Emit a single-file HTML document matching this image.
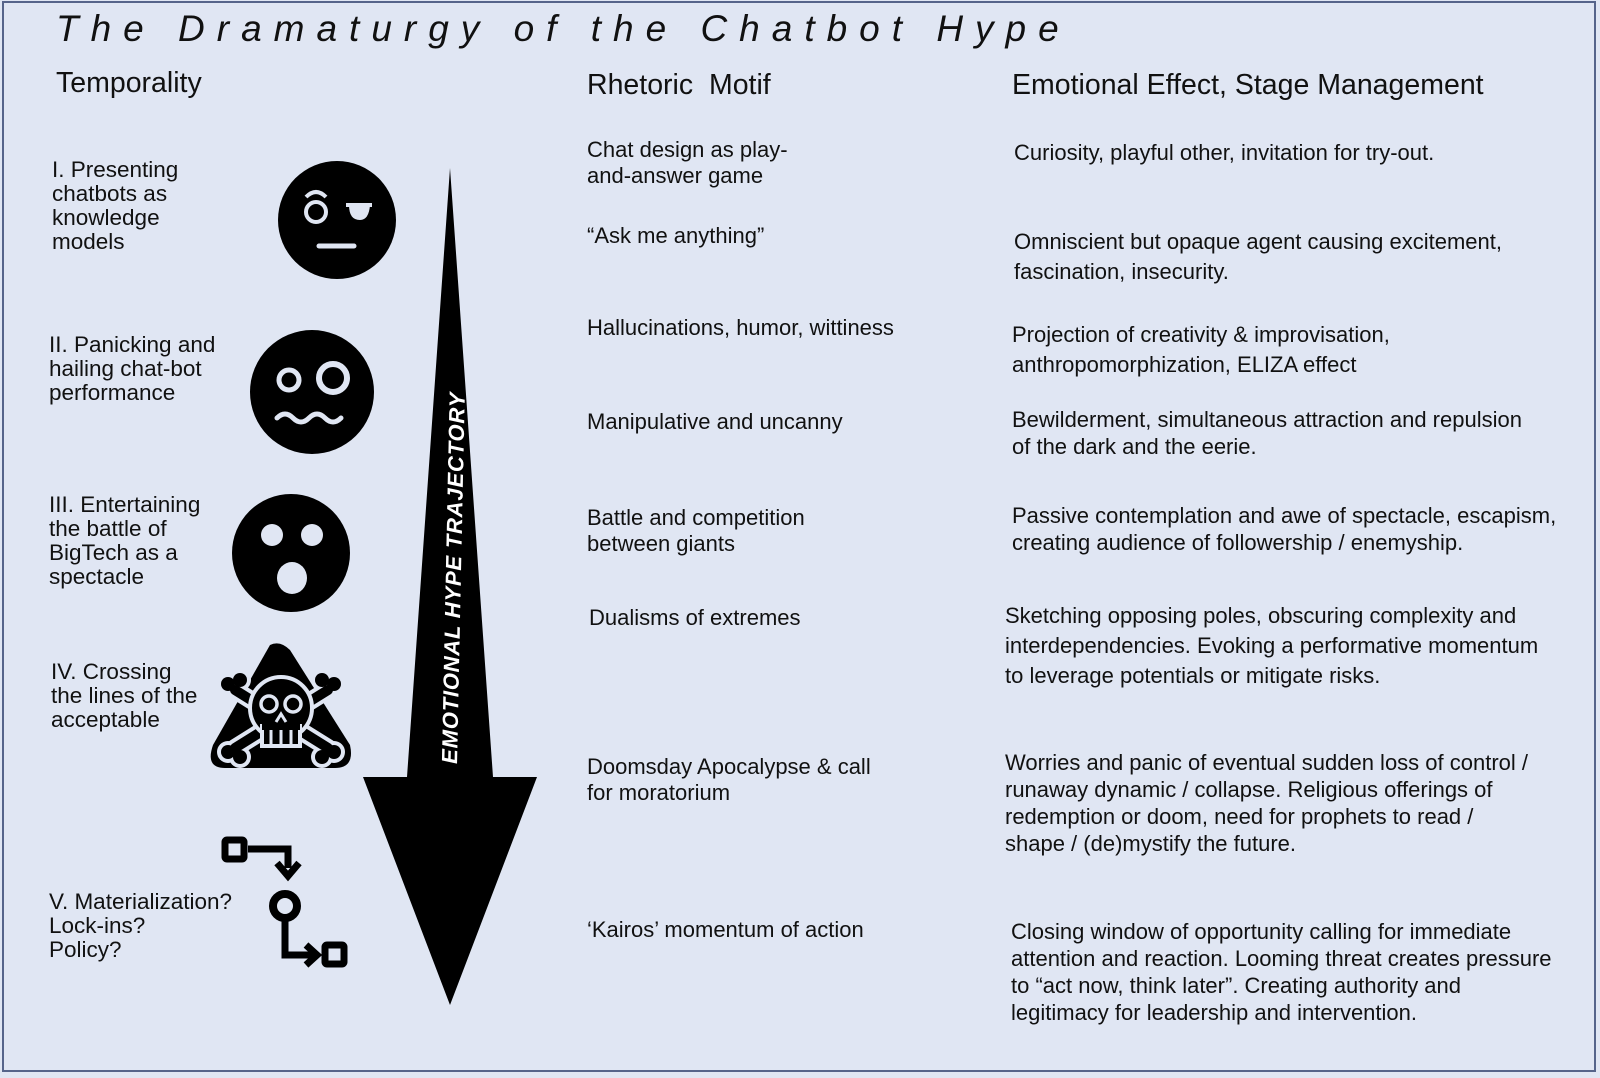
<!DOCTYPE html>
<html><head><meta charset="utf-8"><style>
html,body{margin:0;padding:0}
body{width:1600px;height:1078px;position:relative;background:#e0e6f3;font-family:"Liberation Sans",sans-serif;color:#111;overflow:hidden}
#frame{position:absolute;left:2px;top:1px;width:1594px;height:1071px;border:2px solid #56648a;box-sizing:border-box}
.t{position:absolute;font-size:22px;line-height:26px;white-space:nowrap}
.h{position:absolute;font-size:28.5px;white-space:nowrap}
.l{position:absolute;font-size:22.5px;line-height:24px;white-space:nowrap}
</style></head><body>
<div id="frame"></div>
<div style="position:absolute;left:56px;top:8px;font-size:37px;font-style:italic;letter-spacing:12px;white-space:nowrap">The Dramaturgy of the Chatbot Hype</div>
<div class="h" style="left:56px;top:67px">Temporality</div>
<div class="h" style="left:587px;top:69px">Rhetoric&nbsp; Motif</div>
<div class="h" style="left:1012px;top:69px">Emotional Effect, Stage Management</div>

<div class="l" style="left:52px;top:158px">I. Presenting<br>chatbots as<br>knowledge<br>models</div>
<div class="l" style="left:49px;top:333px">II. Panicking and<br>hailing chat-bot<br>performance</div>
<div class="l" style="left:49px;top:493px">III. Entertaining<br>the battle of<br>BigTech as a<br>spectacle</div>
<div class="l" style="left:51px;top:660px">IV. Crossing<br>the lines of the<br>acceptable</div>
<div class="l" style="left:49px;top:890px">V. Materialization?<br>Lock-ins?<br>Policy?</div>

<div class="t" style="left:587px;top:137px">Chat design as play-<br>and-answer game</div>
<div class="t" style="left:587px;top:223px">“Ask me anything”</div>
<div class="t" style="left:587px;top:315px">Hallucinations, humor, wittiness</div>
<div class="t" style="left:587px;top:409px">Manipulative and uncanny</div>
<div class="t" style="left:587px;top:505px">Battle and competition<br>between giants</div>
<div class="t" style="left:589px;top:605px">Dualisms of extremes</div>
<div class="t" style="left:587px;top:754px">Doomsday Apocalypse &amp; call<br>for moratorium</div>
<div class="t" style="left:587px;top:917px">‘Kairos’ momentum of action</div>

<div class="t" style="left:1014px;top:140px">Curiosity, playful other, invitation for try-out.</div>
<div class="t" style="left:1014px;top:227px;line-height:30px">Omniscient but opaque agent causing excitement,<br>fascination, insecurity.</div>
<div class="t" style="left:1012px;top:320px;line-height:30px">Projection of creativity &amp; improvisation,<br>anthropomorphization, ELIZA effect</div>
<div class="t" style="left:1012px;top:406px;line-height:27px">Bewilderment, simultaneous attraction and repulsion<br>of the dark and the eerie.</div>
<div class="t" style="left:1012px;top:502px;line-height:27px">Passive contemplation and awe of spectacle, escapism,<br>creating audience of followership / enemyship.</div>
<div class="t" style="left:1005px;top:601px;line-height:30px">Sketching opposing poles, obscuring complexity and<br>interdependencies. Evoking a performative momentum<br>to leverage potentials or mitigate risks.</div>
<div class="t" style="left:1005px;top:749px;line-height:27px">Worries and panic of eventual sudden loss of control /<br>runaway dynamic / collapse. Religious offerings of<br>redemption or doom, need for prophets to read /<br>shape / (de)mystify the future.</div>
<div class="t" style="left:1011px;top:918px;line-height:27px">Closing window of opportunity calling for immediate<br>attention and reaction. Looming threat creates pressure<br>to “act now, think later”. Creating authority and<br>legitimacy for leadership and intervention.</div>

<svg width="1600" height="1078" style="position:absolute;left:0;top:0">
<polygon points="450,168 493,777 537,777 450,1005 363,777 407,777" fill="#000"/>
<text transform="translate(457,764) rotate(-88.8)" font-family="Liberation Sans" font-weight="bold" font-style="italic" font-size="22" letter-spacing="0.8" fill="#fff">EMOTIONAL HYPE TRAJECTORY</text>
<!-- face 1 -->
<circle cx="337" cy="220" r="59" fill="#000"/>
<circle cx="316" cy="212" r="10" fill="none" stroke="#e0e6f3" stroke-width="4"/>
<path d="M306,197 Q316,187 326,197" fill="none" stroke="#e0e6f3" stroke-width="4"/>
<path d="M346,205 H372 M351,205 Q351,218 360,218 Q367,218 368,205" fill="#e0e6f3" stroke="#e0e6f3" stroke-width="4"/>
<line x1="319" y1="246" x2="354" y2="246" stroke="#e0e6f3" stroke-width="5" stroke-linecap="round"/>
<!-- face 2 -->
<circle cx="312" cy="392" r="62" fill="#000"/>
<circle cx="289" cy="380" r="10" fill="none" stroke="#e0e6f3" stroke-width="5"/>
<circle cx="333" cy="378" r="14" fill="none" stroke="#e0e6f3" stroke-width="6"/>
<path d="M277,418 q8,-8 16,0 t16,0 t16,0 t16,0" fill="none" stroke="#e0e6f3" stroke-width="5" stroke-linecap="round"/>
<!-- face 3 -->
<circle cx="291" cy="553" r="59" fill="#000"/>
<circle cx="272" cy="535" r="11" fill="#e0e6f3"/>
<circle cx="312" cy="535" r="11" fill="#e0e6f3"/>
<ellipse cx="292" cy="578" rx="15" ry="16" fill="#e0e6f3"/>
<!-- skull triangle -->
<path d="M270,645 Q280,640 290,650 L350,745 Q355,768 335,768 L225,768 Q205,768 213,745 Z" fill="#000"/>
<g stroke="#e0e6f3" stroke-width="18" stroke-linecap="round"><path d="M235,690 L328,748 M328,690 L235,748"/></g>
<g fill="#e0e6f3"><circle cx="228" cy="684" r="11"/><circle cx="240" cy="680" r="11"/><circle cx="334" cy="684" r="11"/><circle cx="322" cy="680" r="11"/><circle cx="228" cy="752" r="11"/><circle cx="240" cy="757" r="11"/><circle cx="334" cy="752" r="11"/><circle cx="322" cy="757" r="11"/></g>
<g stroke="#000" stroke-width="10" stroke-linecap="round"><path d="M235,690 L328,748 M328,690 L235,748"/></g>
<g fill="#000"><circle cx="228" cy="684" r="7"/><circle cx="240" cy="680" r="7"/><circle cx="334" cy="684" r="7"/><circle cx="322" cy="680" r="7"/><circle cx="228" cy="752" r="7"/><circle cx="240" cy="757" r="7"/><circle cx="334" cy="752" r="7"/><circle cx="322" cy="757" r="7"/></g>
<circle cx="281" cy="708" r="31" fill="#000" stroke="#e0e6f3" stroke-width="4"/>
<rect x="262" y="726" width="38" height="20" fill="#000" stroke="#e0e6f3" stroke-width="4"/>
<rect x="262" y="722" width="38" height="8" fill="#000"/>
<path d="M271,730 V744 M281,730 V744 M291,730 V744" stroke="#e0e6f3" stroke-width="3"/>
<circle cx="269" cy="704" r="8" fill="none" stroke="#e0e6f3" stroke-width="3.5"/>
<circle cx="293" cy="704" r="8" fill="none" stroke="#e0e6f3" stroke-width="3.5"/>
<path d="M276,722 L281,714 L286,722" fill="none" stroke="#e0e6f3" stroke-width="3"/>
<!-- flow icon -->
<rect x="225" y="840" width="19" height="19" fill="none" stroke="#000" stroke-width="7" rx="2"/>
<path d="M248,849 H288 V868" fill="none" stroke="#000" stroke-width="7"/>
<path d="M277,863 L288,876 L299,863" fill="none" stroke="#000" stroke-width="7"/>
<circle cx="285" cy="906" r="12" fill="none" stroke="#000" stroke-width="8"/>
<path d="M285,920 V955 H315" fill="none" stroke="#000" stroke-width="7"/>
<path d="M306,945 L317,955 L306,965" fill="none" stroke="#000" stroke-width="7"/>
<rect x="325" y="945" width="19" height="19" fill="none" stroke="#000" stroke-width="7" rx="2"/>
</svg>
</body></html>
